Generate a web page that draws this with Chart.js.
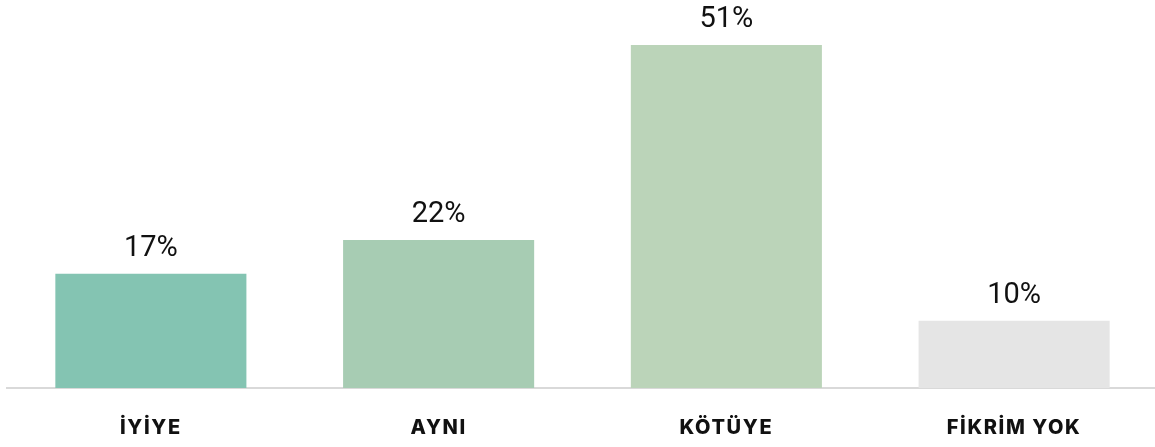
<!DOCTYPE html>
<html>
<head>
<meta charset="utf-8">
<script src="https://cdn.jsdelivr.net/npm/chart.js@4"></script>
<style>
  html, body { margin: 0; padding: 0; background: #ffffff; overflow: hidden; }
  #wrap { width: 1158px; height: 447px; overflow: hidden; }
</style>
</head>
<body>
<div id="wrap"><canvas id="c" width="1158" height="467"></canvas></div>
<script>
const categories = ['İYİYE', 'AYNI', 'KÖTÜYE', 'FİKRİM YOK'];
const values = [17, 22, 51, 10];
const valueLabels = ['17%', '22%', '51%', '10%'];
const barColors = ['#84c4b2', '#a7ccb3', '#bbd4b9', '#e5e5e5'];

const spacingPlugin = {
  id: 'tickSpacing',
  beforeDraw(chart) {
    chart.ctx.letterSpacing = '1.6px';
  }
};

const valueLabelPlugin = {
  id: 'valueLabels',
  afterDatasetsDraw(chart) {
    const ctx = chart.ctx;
    const meta = chart.getDatasetMeta(0);
    ctx.save();
    ctx.letterSpacing = '0px';
    ctx.font = '400 29px Roboto';
    ctx.fillStyle = '#111111';
    ctx.textAlign = 'center';
    ctx.textBaseline = 'alphabetic';
    meta.data.forEach((bar, i) => {
      ctx.fillText(valueLabels[i], bar.x, bar.y - 18);
    });
    ctx.restore();
  }
};

new Chart(document.getElementById('c'), {
  type: 'bar',
  data: {
    labels: categories,
    datasets: [{
      data: values,
      backgroundColor: barColors,
      borderWidth: 0,
      barPercentage: 0.664,
      categoryPercentage: 1.0
    }]
  },
  options: {
    responsive: false,
    animation: false,
    layout: { padding: { top: 45, left: 7, right: 0, bottom: 0 } },
    plugins: { legend: { display: false }, tooltip: { enabled: false } },
    scales: {
      y: { display: false, min: 0, max: 51 },
      x: {
        grid: { display: false, drawTicks: false },
        border: { display: true, color: '#d9d9d9', width: 2 },
        ticks: {
          color: '#111111',
          padding: 20,
          font: { family: 'Inter', weight: '800', size: 20, lineHeight: 1.95 }
        }
      }
    }
  },
  plugins: [spacingPlugin, valueLabelPlugin]
});
</script>
</body>
</html>
